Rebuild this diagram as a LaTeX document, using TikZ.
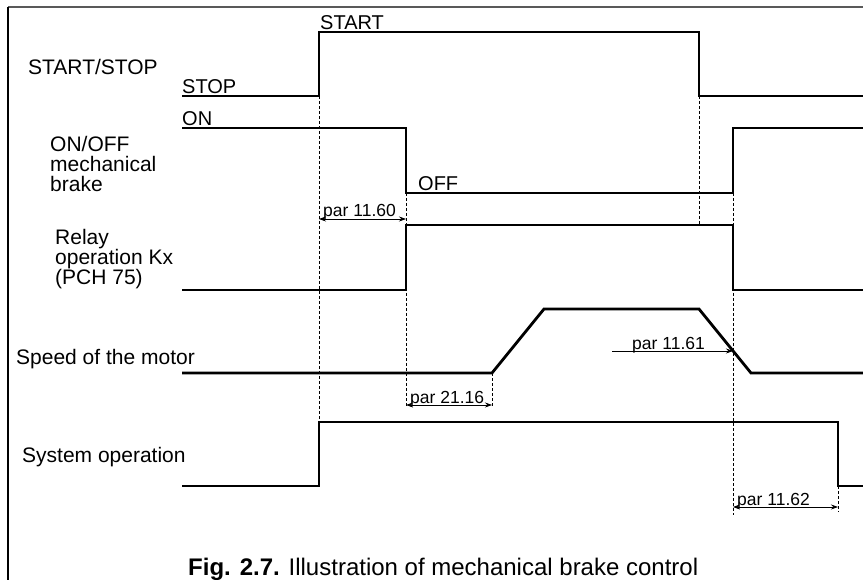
\documentclass[tikz,border=0pt]{standalone}
\usepackage{fontspec}
\setmainfont{Liberation Sans}
\usetikzlibrary{arrows.meta,positioning}
\tikzset{
  sig/.style={line width=2.8pt,line join=miter},
  guide/.style={dash pattern=on 3pt off 2pt,line width=0.8pt},
  dimarr/.style={{Stealth[length=7pt,width=5pt]}-{Stealth[length=7pt,width=5pt]},line width=0.7pt},
  onearr/.style={-{Stealth[length=7pt,width=5pt]},line width=0.7pt},
  lbl/.style={font=\fontsize{21}{20}\selectfont,align=left,inner sep=0pt},
  lvl/.style={font=\fontsize{20}{20}\selectfont,inner sep=0pt,anchor=base west},
  parlbl/.style={font=\fontsize{17.5}{18}\selectfont,inner sep=0pt,anchor=base west}
}

\begin{document}
\begin{tikzpicture}[x=1pt,y=-1pt]
  \useasboundingbox (0,0) rectangle (863,580);

  % frame
  \draw[gray!70!black,line width=1.6pt] (8,7) -- (863,7);
  \draw[line width=1.4pt] (8,7) -- (8,580);

  % signal names
  \node[lbl,anchor=base west] (ss) at (28,75) {START/STOP};
  \node[lbl,anchor=north west] (brk) at (50,136) {ON/OFF\\mechanical\\brake};
  \node[lbl,anchor=north west] (rel) at (55,229) {Relay\\operation Kx\\(PCH 75)};
  \node[lbl,anchor=base west] (spd) at (16,365) {Speed of the motor};
  \node[lbl,anchor=base west] (sys) at (22,462) {System operation};

  % level names
  \node[lvl] (stop) at (182,94) {STOP};
  \node[lvl] (start) at (320,30) {START};
  \node[lvl] (on) at (182,126) {ON};
  \node[lvl] (off) at (418,191) {OFF};

  % waveforms
  \draw[sig] (182,96) -- (319,96) -- (319,32) -- (699,32) -- (699,96) -- (863,96);
  \draw[sig] (182,128) -- (406,128) -- (406,193) -- (733,193) -- (733,128) -- (863,128);
  \draw[sig] (182,290) -- (406,290) -- (406,225) -- (733,225) -- (733,290) -- (863,290);
  \draw[sig] (182,373) -- (492,373) -- (544,309) -- (699,309) -- (751,373) -- (863,373);
  \draw[sig] (182,486) -- (319,486) -- (319,422) -- (838,422) -- (838,486) -- (863,486);

  % guides
  \draw[guide] (319,96) -- (319,422);
  \draw[guide] (406,193) -- (406,407);
  \draw[guide] (699,96) -- (699,225);
  \draw[guide] (733,193) -- (733,515);
  \draw[guide] (492,373) -- (492,407);
  \draw[guide] (838,486) -- (838,512);

  % delays
  \coordinate (d1a) at (319,219);
  \coordinate (d1b) at (406,219);
  \coordinate (d2a) at (406,405);
  \coordinate (d2b) at (492,405);
  \coordinate (d3a) at (612,351);
  \coordinate (d3b) at (733,351);
  \coordinate (d4a) at (733,507);
  \coordinate (d4b) at (838,507);

  \draw[dimarr] (d1a) -- (d1b);
  \draw[dimarr] (d2a) -- (d2b);
  \draw[onearr] (d3a) -- (d3b);
  \draw[dimarr] (d4a) -- (d4b);

  \node[parlbl] (p1160) at (323,217) {par 11.60};
  \node[parlbl] (p2116) at (410,403) {par 21.16};
  \node[parlbl] (p1161) at (632,349) {par 11.61};
  \node[parlbl] (p1162) at (737,505) {par 11.62};

  % caption
  \node[font=\fontsize{24}{26}\selectfont,inner sep=0pt,anchor=base west] (cap) at (188,575)
    {\textbf{Fig. 2.7.} Illustration of mechanical brake control};
\end{tikzpicture}
\end{document}
